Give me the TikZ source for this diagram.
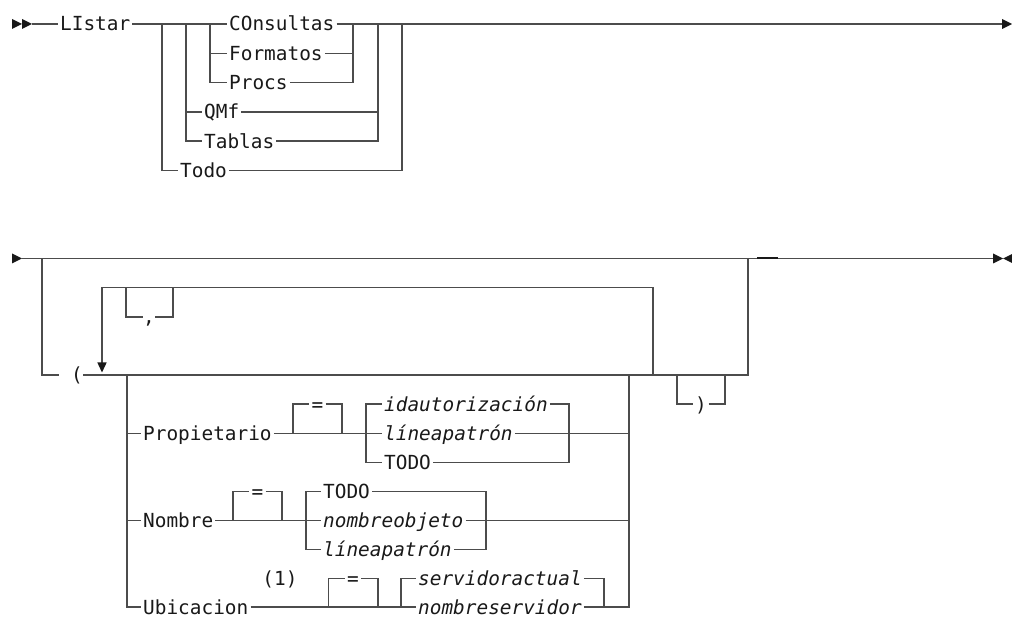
\documentclass[tikz,border=0pt]{standalone}
\usepackage{fontspec}
\setmonofont{DejaVu Sans Mono}
\usetikzlibrary{arrows.meta}
\newcommand{\rrfont}{\ttfamily\fontsize{19.4}{22}\selectfont}

\begin{document}
\begin{tikzpicture}[
  x=1pt, y=-1pt,
  rr/.style={draw=black!70, line width=1.4pt},
  kw/.style={font=\rrfont, text=black!90, inner xsep=2pt, inner ysep=0pt, text height=14pt, text depth=0pt, anchor=west},
  var/.style={kw, font=\rrfont\itshape},
  rtip/.pic={\fill[black!90] (0,-5) -- (10,0) -- (0,5) -- cycle;}
]
\useasboundingbox (0,0) rectangle (1012,617);

% First line: LIstar
\pic at (12,24) {rtip};
\pic at (22,24) {rtip};
\coordinate (s1) at (32,24);
\node[kw] (listar) at (58,24) {LIstar};
\node[kw] (consultas) at (227,24) {COnsultas};
\node[kw] (formatos) at (227,53.3) {Formatos};
\node[kw] (procs) at (227,82.6) {Procs};
\node[kw] (qmf) at (202,111.9) {QMf};
\node[kw] (tablas) at (202,141.2) {Tablas};
\node[kw] (todo) at (178,170.5) {Todo};
\coordinate (e1) at (1002,24);
\pic at (1002,24) {rtip};

% junctions of the first line
\coordinate (ja) at (162,24);
\coordinate (jb) at (186,24);
\coordinate (jc) at (210,24);
\coordinate (jd) at (353,24);
\coordinate (je) at (378,24);
\coordinate (jf) at (402,24);

\draw[rr] (s1) -- (listar.west);
\draw[rr] (listar.east) -- (consultas.west);
\draw[rr] (consultas.east) -- (e1);
\foreach \n in {formatos,procs} {
  \draw[rr] (jc) |- (\n.west);
  \draw[rr] (\n.east) -| (jd);
}
\foreach \n in {qmf,tablas} {
  \draw[rr] (jb) |- (\n.west);
  \draw[rr] (\n.east) -| (je);
}
\draw[rr] (ja) |- (todo.west);
\draw[rr] (todo.east) -| (jf);

% Second line
\pic at (12,258.5) {rtip};
\coordinate (s2) at (22,258.5);
\coordinate (e2) at (993,258.5);
\pic at (993,258.5) {rtip};
\pic[xscale=-1] at (1013,258.5) {rtip};
\draw[rr] (s2) -- (e2);
\draw[line width=2pt, black!90] (757,258.5) -- (778,258.5);

\coordinate (jg) at (42,258.5);
\coordinate (jh) at (748,258.5);
\node[kw, anchor=center, inner xsep=0pt] (lpar) at (77,375) {(};
\draw[rr] (jg) |- ([xshift=-12pt]lpar.west);
\draw[rr] (lpar.east) -| (jh);

% repeat loop with optional comma
\coordinate (rp1) at (102,372.5);
\coordinate (rp2) at (653,375);
\coordinate (rpt) at (102,287.7);
\draw[rr, -{Triangle[length=10pt, width=9pt, color=black!90]}] (rp2) |- (rpt) -- (rp1);
\node[kw, anchor=center, inner xsep=0pt] (comma) at (149,317) {,};
\coordinate (cm1) at (126,287.7);
\coordinate (cm2) at (173,287.7);
\draw[rr] (cm1) |- (comma.west);
\draw[rr] (comma.east) -| (cm2);

% optional closing parenthesis
\node[kw, anchor=center, inner xsep=1.5pt] (rpar) at (701,404.2) {)};
\coordinate (pr1) at (677,375);
\coordinate (pr2) at (725,375);
\draw[rr] (pr1) |- (rpar.west);
\draw[rr] (rpar.east) -| (pr2);

% options group
\coordinate (ga) at (127,375);
\coordinate (gb) at (629,375);
\node[kw] (prop) at (141,433.4) {Propietario};
\node[kw] (nombre) at (141,520.4) {Nombre};
\node[kw] (ubic) at (141,607) {Ubicacion};
\foreach \n in {prop,nombre,ubic}
  \draw[rr] (ga) |- (\n.west);

% Propietario
\node[kw, anchor=center] (eqa) at (317.5,404.2) {=};
\coordinate (qa1) at (293,433.4);
\coordinate (qa2) at (342,433.4);
\draw[rr] (qa1) |- (eqa.west);
\draw[rr] (eqa.east) -| (qa2);
\node[var] (idaut) at (382,404.2) {idautorización};
\node[var] (patr1) at (382,433.4) {líneapatrón};
\node[kw] (todoa) at (382,462.4) {TODO};
\coordinate (pa1) at (366,433.4);
\coordinate (pa2) at (569,433.4);
\draw[rr] (prop.east) -- (patr1.west);
\draw[rr] (patr1.east) -- (patr1.east -| gb);
\foreach \n in {idaut,todoa} {
  \draw[rr] (pa1) |- (\n.west);
  \draw[rr] (\n.east) -| (pa2);
}

% Nombre
\node[kw, anchor=center] (eqb) at (257.5,491.4) {=};
\coordinate (qb1) at (233,520.4);
\coordinate (qb2) at (282,520.4);
\draw[rr] (qb1) |- (eqb.west);
\draw[rr] (eqb.east) -| (qb2);
\node[kw] (todob) at (321,491.4) {TODO};
\node[var] (nobj) at (321,520.4) {nombreobjeto};
\node[var] (patr2) at (321,549.4) {líneapatrón};
\coordinate (pb1) at (306,520.4);
\coordinate (pb2) at (486,520.4);
\draw[rr] (nombre.east) -- (nobj.west);
\draw[rr] (nobj.east) -- (nobj.east -| gb);
\foreach \n in {todob,patr2} {
  \draw[rr] (pb1) |- (\n.west);
  \draw[rr] (\n.east) -| (pb2);
}

% Ubicacion
\node[kw, anchor=center] (note) at (280,578.2) {(1)};
\node[kw, anchor=center] (eqc) at (353,578.2) {=};
\coordinate (qc1) at (328.5,607);
\coordinate (qc2) at (378,607);
\draw[rr] (qc1) |- (eqc.west);
\draw[rr] (eqc.east) -| (qc2);
\node[var] (sact) at (416,578.2) {servidoractual};
\node[var] (nserv) at (416,607) {nombreservidor};
\coordinate (pc1) at (401,607);
\coordinate (pc2) at (604,607);
\draw[rr] (ubic.east) -- (nserv.west);
\draw[rr] (nserv.east) -| (gb);
\draw[rr] (pc1) |- (sact.west);
\draw[rr] (sact.east) -| (pc2);
\end{tikzpicture}
\end{document}
